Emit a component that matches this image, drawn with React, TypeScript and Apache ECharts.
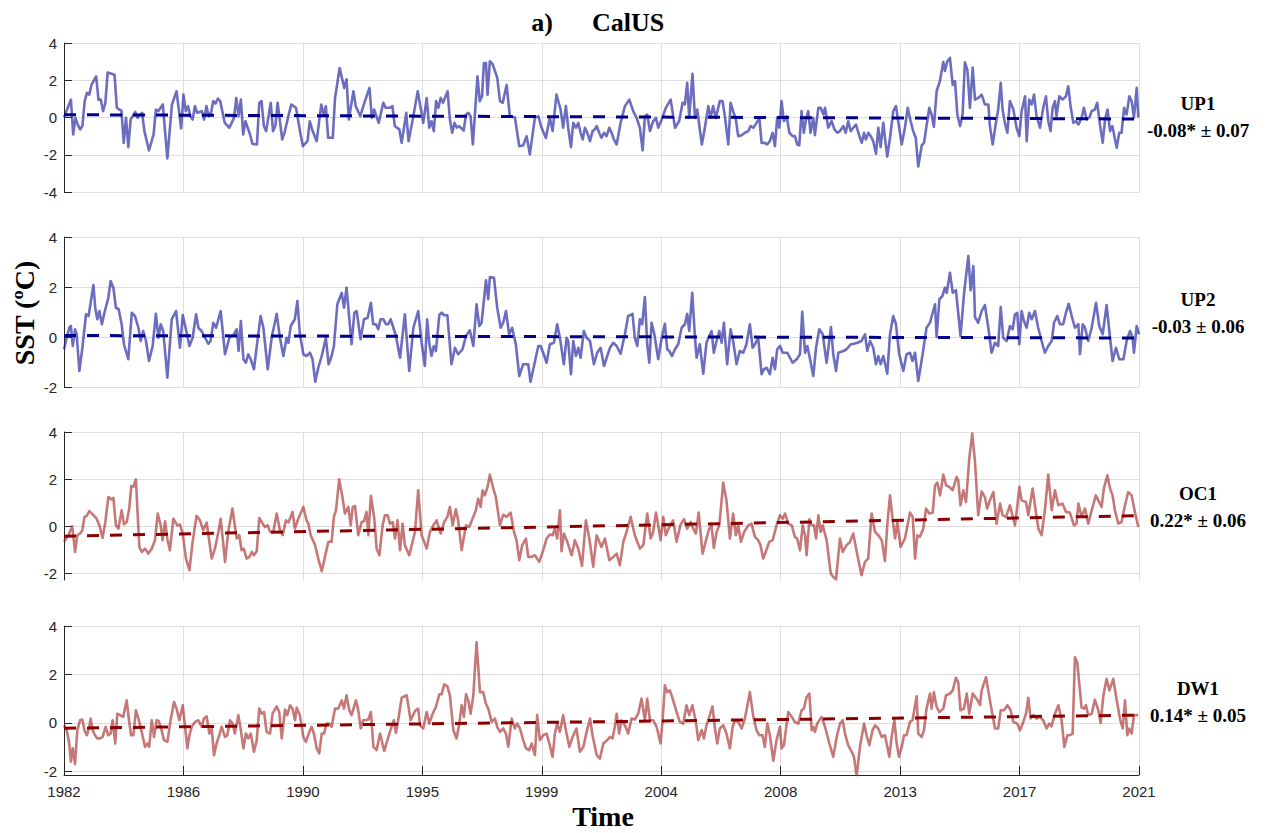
import React, { useEffect, useRef } from 'react';
import * as echarts from 'echarts';

// ---- tick labels / names ----
const tickLabels = ['1982', '1986', '1990', '1995', '1999', '2004', '2008', '2013', '2017', '2021'];
const panelNames = ['UP1', 'UP2', 'OC1', 'DW1'];
const trendTexts = ['-0.08* ± 0.07', '-0.03 ± 0.06', '0.22* ± 0.06', '0.14* ± 0.05'];

// trend line values at start (Jan 1982) and end (2021)
const trendUP1 = [0.15, -0.08];
const trendUP2 = [0.06, -0.04];
const trendOC1 = [-0.42, 0.45];
const trendDW1 = [-0.22, 0.32];

// series: [month index since Jan 1982, SST anomaly ºC]
const up1: number[][] = [
  [0,0.0],[3,0.96],[4,-0.91],[5,-0.02],[6,-0.38],[7,-0.64],[8,-0.46],[9,0.88],[10,1.32],[11,1.23],[12,1.77],[14,2.21],[15,0.96],[16,0.96],[17,0.34],[18,0.79],[19,2.41],[22,2.3],[23,0.52],[24,0.43],[25,0.38],[26,-1.36],[27,-0.02],[28,-1.59],[29,-0.11],[31,0.3],[32,-0.02],[34,0.25],[35,-0.73],[37,-1.77],[39,-0.91],[40,0.43],[41,0.34],[43,0.7],[45,-2.2],[47,0.7],[49,1.41],[51,-0.59],[52,1.23],[53,0.34],[54,0.61],[55,0.07],[56,-0.11],[57,0.61],[58,0.25],[60,0.34],[61,-0.11],[62,0.61],[63,0.07],[64,0.25],[65,0.88],[66,0.75],[67,1.02],[68,0.88],[70,-0.29],[72,-0.55],[74,-0.02],[75,1.05],[76,0.07],[77,0.96],[78,-0.91],[79,-0.2],[81,-0.91],[82,-1.41],[84,-1.45],[85,0.79],[86,0.88],[87,-0.46],[88,-0.73],[90,0.79],[91,-0.73],[92,-0.46],[93,0.79],[95,-1.18],[96,-0.82],[98,0.25],[99,0.7],[101,0.52],[103,-0.91],[104,-1.54],[106,-1.27],[107,-0.2],[108,-0.64],[110,-1.27],[112,0.7],[113,0.16],[114,0.61],[115,-1.09],[117,-1.09],[118,1.05],[120,2.66],[122,1.59],[123,2.05],[124,-0.11],[126,1.41],[127,0.61],[129,0.07],[131,0.88],[133,1.59],[134,-0.02],[135,0.43],[137,-0.29],[139,0.79],[140,0.52],[142,0.52],[143,0.61],[144,-0.46],[146,-0.64],[147,-1.36],[149,0.25],[150,-1.27],[152,0.02],[154,1.41],
  [156.4,-0.29],[157.9,1.05],[159,-0.55],[160,-0.2],[161,-0.73],[162,0.88],[163,0.52],[164,1.05],[165,0.79],[167,1.41],[168,-0.11],[169,-0.82],[170,-0.29],[171,-0.55],[172,-0.46],[174,-0.7],[175,0.16],[176,0.25],[177,0.07],[178,-1.45],[180,2.21],[181,0.88],[182,1.14],[182.8,2.93],[183.7,2.93],[184.4,1.23],[185.4,3.02],[186.6,2.86],[188.6,2.14],[189.8,0.88],[191,0.79],[192.7,1.75],[194.1,0.07],[196.3,0],[198.2,-1.54],[199.9,-1.5],[201.4,-1.0],[202.8,-1.98],[205,-0.02],[206.5,0.07],[207.9,-0.55],[209.8,-1.1],[211.5,0],[212.7,-0.73],[214.4,1.23],[216.2,0.43],[217.3,-0.55],[218.5,0.61],[219.5,-0.55],[220.7,-1.59],[221.7,-0.29],[222.9,-0.55],[223.9,-0.29],[224.9,-0.82],[225.8,-1.18],[226.8,-0.55],[227.8,-0.82],[229,-1.27],[230.1,-0.73],[231.1,-0.64],[231.9,-0.46],[233,-0.82],[234,-1.09],[235.1,-0.82],[236.2,-1.0],[237.4,-0.55],[238.4,-0.82],[239.4,-1.18],[240.6,-1.45],[242.3,-0.29],[244.2,0.61],[246.1,0.96],[247.8,0.34],[249.3,-0.02],[250.7,-0.55],[251.9,-1.77],[252.9,0.07],[253.9,0.16],[255.1,-0.73],[256.5,-0.2],[257.7,-0.02],[258.7,-0.55],[260.2,-0.11],[262,0.52],[264.1,0.96],[266,-0.55],[267.8,-0.2],[269.3,0.79],[270.3,0.7],[271.3,1.86],[272.2,-0.02],[273.6,2.34],[274.7,-0.02],[275.7,0.43],[276.8,-0.64],[277.7,-1.45],[279,-0.55],[280.5,0.61],[281.5,0],[282.6,0.61],[283.8,-0.02],[285.5,0.88],[286.7,0.88],[287.7,0.07],[289.2,-1.45],[290.2,0.79],[291.3,0.34],[292.5,-0.11],[293.5,-1.0],[295,-0.95],[296.4,-0.82],[297.9,-0.73],[298.9,-0.46],[300.1,-0.55],[301.5,-0.29],[302.7,-0.02],[303.7,-1.36],[305.1,-1.36],[306.1,-1.45],[307.3,-1.27],[308.5,-0.82],[309.5,-1.54],[310.5,0],[311.4,-0.55],
  [312.4,0.88],[313.4,-0.2],[314.6,0.07],[315.8,-0.82],[317.2,-1.0],[318.2,-1.0],[319.2,-1.45],[320.1,-1.5],[321.1,0.34],[322.1,-0.82],[323,-0.11],[324,0.34],[325,-0.82],[326.2,-0.02],[326.9,-0.95],[328.4,0.52],[329.4,0.52],[330.6,0.16],[331.3,0.52],[332.7,-0.55],[334.2,-0.2],[335.4,-0.64],[336.7,-0.82],[337.8,-0.73],[339.3,-0.46],[340.3,-0.82],[341.4,-0.2],[342.5,-0.73],[343.6,-0.55],[344.8,-0.38],[345.8,-0.82],[347.3,-1.36],[348.3,-0.82],[349.1,-1.18],[350.2,-0.82],[351.2,-1.0],[352.3,-1.27],[353.5,-1.95],[354.5,-0.55],[355.5,-1.59],[356.7,-0.29],[357.4,-1.09],[358.4,-2.1],[359.6,-1.1],[361,0.34],[362.2,0.61],[363.6,-0.55],[364.7,-1.45],[366.1,-0.55],[367.3,0.52],[368.6,-0.2],[369.7,-0.73],[370.8,-1.09],[371.9,-2.63],[373.4,-1.5],[374.4,-1.36],[375.5,-0.46],[376.7,0.52],[377.7,0.16],[378.7,-0.5],[379.9,1.41],[381.3,1.95],[382.8,2.98],[383.5,2.5],[384.5,3.0],[385.7,3.2],[386.9,1.75],[387.9,1.95],[388.9,0.16],[390.1,-0.46],[391.2,0.16],[392.2,2.96],[393.3,2.55],[394.4,0.52],[395.6,2.68],[396.6,0.96],[398,1.05],[399.5,1.23],[400.9,0.7],[402.4,0.7],[403.1,-0.46],[404.3,-1.45],[405.7,-0.29],[406.7,0.43],[407.8,1.86],[408.6,0.43],[409.6,-0.29],[410.7,-0.82],[411.8,0.88],[413.3,0.43],[414.7,-0.55],[415.9,-1.0],[416.9,0.34],[418.4,1.14],[419.1,-1.27],[420.2,0.96],[421.3,0.7],[422.3,1.23],[423.4,0.07],[424.9,-0.55],[426.3,0.52],[427.5,1.14],[428.5,-0.2],[429.5,-0.73],[430.4,0.52],[431.4,0.88],[432.1,0.07],[433.3,1.14],[434.7,0.96],[436.2,1.14],[437.2,1.68],[438.2,0.61],[439.4,-0.29],[440.5,-0.2],[441.6,-0.38],[443,-0.02],[444,0.52],[445.2,-0.11],[446.4,0],[447.4,0.34],[448.8,0.43],[449.8,0.79],[451,-0.38],[452.2,-1.36],[453.2,-0.11],[454.3,0.43],[455.4,-0.73],[456.4,-0.46],[457.2,-0.95],[458.3,-1.63],[459.4,-0.82],[460.4,-0.82],[461.5,0.52],[462.6,0.16],[463.8,1.14],[464.8,0.88],[465.8,0],[467,1.59],[467.7,0]
];

const up2: number[][] = [
  [0,-0.49],[1.2,-0.03],[2.3,0.37],[3,0.44],[3.8,-0.36],[4.8,0.31],[5.5,0.11],[6.7,-1.36],[8,-0.43],[9.6,0.91],[10.7,0.84],[12.8,2.08],[13.6,1.17],[14.5,0.71],[15.4,1.04],[16.5,0.51],[17.6,0.97],[19.3,1.57],[20.3,2.24],[21.5,1.97],[22.6,1.17],[23.8,1.11],[25.1,0.51],[26.1,-0.29],[28,-0.89],[29.5,0.97],[30.9,0.84],[32.4,0.37],[33.4,-0.16],[34.5,0.24],[35.7,-0.16],[37,-0.96],[38.6,-0.36],[40,0.93],[41.1,-0.03],[42.1,0.51],[43.2,0.24],[45,-1.63],[46.9,0.71],[48.8,1.04],[50.5,-0.43],[51.7,0.88],[53.4,0.17],[54.6,-0.36],[56,-0.03],[57.5,0.91],[58.5,0.37],[59.9,0.24],[61.4,-0.03],[62.8,-0.27],[63.8,-0.16],[65,0.57],[66.2,0.37],[68.2,1.04],[70.1,-0.69],[72,-0.03],[74,0.11],[75.2,0.31],[76,-0.56],[77,0.64],[78.1,-0.89],[79.2,-1.03],[80.2,-0.69],[81.3,-0.89],[82.7,-1.29],[84.2,-0.16],[85.6,0.84],[86.8,0.37],[88.7,-1.29],[90.4,-0.03],[92.6,0.93],[94,-0.03],[95.5,-0.76],[96.9,-0.03],[97.7,-0.23],[98.7,0.44],[99.8,0.61],[100.5,0.71],[101.6,1.44],[102.7,0.11],[104.2,-0.69],[105.6,-0.76],[107.1,-0.63],[108.2,-0.89],[109.4,-1.79],[110.7,-1.23],[112.2,-0.76],[114,-0.03],[115.2,-1.09],[116.5,-0.76],[117.5,-0.36],[119,1.31],[120.9,1.77],[121.9,1.17],[123,1.97],[125.2,-0.29],[126.4,0.97],[127.4,1.04],[129.1,-0.09],[130.6,0.71],[132.2,0.77],[133.6,1.37],[134.6,0.51],[135.8,0.51],[136.8,0.31],[137.8,0.71],[139,0.71],[140.2,0.51],[141.2,0.51],[142.2,0.71],[143.4,0.37],[144.5,0.04],[146.3,-0.83],[148.4,0.91],[150.3,-1.36],[152.1,0.37],[154.2,1.04],
  [155.7,-0.23],[157.1,-1.16],[158.1,0.71],[159,-0.23],[160,-0.76],[161,-0.36],[161.9,-0.56],[163.4,0.88],[164.4,0.97],[165.5,0.87],[166.9,0.87],[168.7,-1.09],[170.2,-0.43],[171.6,-0.69],[173.5,-0.49],[175,0.04],[176.7,0.27],[178.2,-0.36],[179.6,1.31],[180.8,0.44],[181.8,0.57],[183.7,2.27],[184.7,1.51],[185.4,2.4],[187.2,2.37],[188.6,1.17],[190.1,0.37],[191.2,0.57],[192.4,1.04],[193.8,0.11],[195.1,0.37],[196.7,-0.29],[198.2,-1.56],[199.9,-1.09],[202.1,-1.09],[203.1,-1.79],[204.6,-1.16],[206.5,-0.36],[207.5,-0.36],[208.6,-0.63],[210.1,-1.03],[211.5,-0.29],[213.3,-0.23],[214.7,0.51],[215.9,-0.03],[217.6,-1.09],[218.8,-0.03],[219.5,-0.16],[220.7,-1.49],[221.7,-0.16],[222.9,-0.76],[223.9,-0.43],[224.9,-0.83],[226.3,0.24],[227.5,-0.03],[229,-0.16],[230.7,-1.09],[232.1,-0.63],[233.6,-0.43],[235.1,-1.16],[236.5,-0.76],[237.7,-0.43],[239.1,-0.23],[240.6,-0.36],[242.3,-0.67],[244.2,0.11],[245.6,0.84],[246.7,0.88],[247.5,0.93],[248.5,-0.03],[249.6,-0.36],[250.7,0.71],[251.7,0.51],[252.9,1.6],[253.9,-0.29],[254.8,-1.03],[255.8,0.57],[257,0.11],[258.7,-0.89],[260.2,-0.03],[261.6,0.53],[262.6,-0.49],[263.5,-0.56],[264.7,-0.76],[266,-0.49],[267.4,-0.29],[268.9,0.37],[270.3,0.51],[271.3,0.93],[272.2,0.24],[273.5,1.77],[274.7,-0.03],[275.4,-0.83],[276.8,-0.29],[278.3,-1.47],[279.7,-0.23],[280.9,0.04],[281.9,0.24],[282.9,-0.63],[284.1,-0.16],[285.3,0.24],[286.3,-0.23],[287.3,0.57],[288.7,-1.09],[290.2,0.31],[291.3,-0.16],[292.8,-1.09],[294.2,-0.56],[295.7,-0.63],[297.1,-0.29],[298.6,0.51],[299.8,-0.43],[300.8,-0.29],[302.2,-0.03],[303.7,-1.49],[304.7,-1.29],[305.9,-1.23],[307.3,-1.49],[308.5,-0.83],[309.5,-1.29],[310.5,-0.49],
  [311.7,-0.36],[312.9,-0.63],[314.9,-0.63],[317.2,-1.03],[319,-0.89],[320.4,-0.69],[321.4,1.01],[322.6,-0.63],[323.6,-0.36],[324.8,-0.89],[326.2,-1.56],[327.4,-0.43],[328.8,0.31],[330.3,0.11],[332,-1.03],[333.9,0.4],[334.9,-0.69],[336.1,-1.36],[337.1,-0.63],[339.3,-0.56],[340.7,-0.49],[342.5,-0.29],[343.9,-0.27],[345.4,-0.23],[347.2,-0.16],[348.7,0.11],[349.7,-0.56],[350.9,-0.16],[352.3,-0.43],[353.5,-1.09],[354.5,-0.76],[355.5,-1.09],[356.7,-0.76],[358.4,-1.47],[359.6,0.11],[361,0.84],[362.2,0.51],[363.6,-0.69],[365.4,-1.36],[366.8,-0.69],[368.3,-0.63],[369.4,-0.96],[370.5,-0.63],[371.9,-1.76],[373.8,-0.69],[375.5,0.37],[377,0.57],[379.2,1.31],[379.9,0],[381.1,1.51],[382.4,1.64],[383.5,1.97],[384.3,1.77],[385.7,2.57],[386.9,1.77],[388.3,1.87],[390.3,0.04],[391.8,1.71],[393.7,3.24],[394.7,1.87],[395.9,2.84],[396.6,0.8],[398,0.57],[399.5,1.04],[400.9,1.28],[402.4,0.37],[403.8,-0.63],[405.3,-0.23],[406.7,-0.36],[407.8,1.2],[408.9,-0.03],[410.4,-0.16],[411.8,0.44],[413,0.31],[414,0.91],[415,0.97],[415.9,-0.29],[416.9,1.04],[417.9,0.64],[419.1,0.37],[420.2,0.97],[421.3,0.71],[422.7,1.04],[424.1,0.37],[425.6,-0.16],[427,-0.63],[428.5,-0.36],[430,-0.16],[431,0.57],[432.4,0.84],[433.6,0.51],[435,0.51],[436.2,0.97],[437.4,1.33],[438.7,0.84],[440.1,0.37],[441.6,0.51],[442.3,-0.69],[443.5,0.51],[444.5,0.37],[445.9,-0.16],[447.4,0.37],[449.3,1.37],[450.7,0.44],[452.2,0.11],[453.9,1.28],[455.4,-0.03],[456.5,-0.96],[458,-0.43],[459.4,-0.89],[461.2,-0.89],[462.6,-0.16],[464.1,0.24],[465.2,-0.03],[465.8,-0.63],[467,0.44],[468,0.11]
];

const oc1: number[][] = [
  [0,-0.66],[1.9,-0.38],[3.6,0],[4.8,-1.09],[5.8,-0.38],[7,-0.31],[8,-0.17],[8.9,0.4],[9.9,0.44],[11,0.64],[12.8,0.47],[14.2,0.32],[15.4,0.04],[16.8,-0.49],[18,0.18],[19.3,1.24],[20.7,1.14],[21.5,1.2],[22.6,0.04],[23.7,-0.1],[25.1,0.68],[26.1,0.08],[27.3,0.18],[28.4,0.75],[29.3,1.71],[30.2,1.67],[31.3,1.99],[32.8,-0.88],[33.8,-1.09],[35.3,-0.95],[36.7,-1.16],[38.2,-0.95],[39.6,-0.59],[40.8,0.54],[42.1,0.04],[42.9,-0.59],[44,0.21],[45.1,-0.59],[46.1,-1.02],[47.6,0.32],[49.3,0.04],[50.5,0.07],[51.7,-0.31],[53.1,-1.37],[54.6,-1.86],[56,-0.66],[57.7,0.44],[59.2,0.25],[60.6,-0.17],[62.1,0.16],[64.3,-1.37],[65.7,-0.95],[67.2,-0.24],[68.2,0.32],[69.1,-0.52],[70.1,-1.51],[71.5,-0.24],[73.3,0.75],[75.2,-0.52],[76.3,-0.38],[77.3,-1.02],[78.3,-0.95],[79.5,-1.37],[80.7,-1.3],[81.8,-1.09],[82.7,-1.23],[83.9,-1.06],[85,0.35],[86.5,0.11],[87.5,-0.03],[88.7,0.04],[89.7,-0.24],[91.1,-0.24],[92.6,0.54],[94,-0.17],[95.2,-0.38],[96.6,0.25],[97.7,0.16],[98.7,0.4],[99.5,0.61],[100.5,-0.1],[102,0.32],[104.2,0.82],[105.6,0.25],[106.4,0.11],[107.4,-0.38],[109.3,-0.8],[110.7,-1.37],[112.2,-1.91],[113.6,-1.3],[115.1,-0.66],[116.5,-0.66],[117.5,0.4],[118.4,0.68],[119.8,1.99],[121.2,1.24],[122.3,0.54],[123.8,0.82],[124.8,0.04],[125.7,0.82],[126.7,0.86],[128.1,-0.38],[129.6,0.18],[130.6,0.21],[131.7,0.61],[132.5,-0.38],[133.6,1.29],[135.1,0.32],[136.1,-0.95],[137.3,-1.23],[138.7,0.04],[139.7,0.47],[140.9,0.47],[141.9,0.11],[143.1,0.18],[144.1,-0.52],[145.2,0.25],[146.3,-1.02],[147.4,0.11],[148.4,-0.8],[150.3,-1.23],[152.8,-0.24],[154.2,1.53],
  [155.7,-0.38],[157.9,-0.95],[159.3,-0.24],[160.8,0.04],[162.2,0.25],[164,-0.31],[165.5,0.18],[166.9,0.4],[168,0.82],[169.2,0.04],[170.6,0.72],[171.6,0.25],[173.1,-1.02],[175,0.04],[176.4,-0.03],[178.2,0.4],[179.3,0.68],[180.3,1.17],[181.4,0.82],[182.2,1.53],[183.2,1.31],[184.4,1.67],[185.4,2.19],[186.9,1.6],[188,1.24],[189.8,0.04],[191.2,0.49],[192.7,0.4],[194.4,0.58],[195.9,-0.24],[197,-0.59],[198.2,-1.44],[199.5,-0.8],[201.1,-0.52],[202.1,-1.3],[203.6,-1.3],[205,-1.23],[206.9,-1.51],[208.6,-1.02],[210.1,-0.52],[211.5,-0.35],[212.7,-0.38],[213.7,-0.1],[214.7,-0.52],[215.9,0.68],[216.6,-1.06],[217.6,-0.31],[219.1,-0.66],[221,-1.23],[222.4,-0.59],[223.9,-0.95],[225.5,-1.68],[227.2,0.25],[228.7,-0.52],[230.4,-1.72],[231.9,-0.38],[234,-0.88],[235.5,-0.52],[237.4,-1.44],[239.1,-1.3],[240.6,-1.16],[242,-1.65],[243.5,-0.66],[244.9,-0.24],[246.7,0.4],[248.5,-0.38],[250.7,-0.95],[252.2,-0.8],[253.9,0.54],[255.4,-0.52],[256.5,-0.24],[257.7,0.58],[258.7,0.04],[259.7,-0.59],[260.9,0.4],[262,-0.38],[263.5,-0.03],[265.2,0.25],[266.7,-0.66],[268.4,0.07],[269.9,0.3],[271.3,-0.1],[272.8,0.18],[273.9,-0.1],[275.1,-0.31],[276.3,0.58],[278,-1.16],[279.7,-0.52],[280.9,-0.1],[281.9,0.04],[282.9,-0.92],[284.1,-0.24],[285.3,0.04],[287,1.85],[288.4,1.1],[289.9,-0.52],[291.3,0.54],[292.5,-0.38],[293.5,0.04],[294.7,-0.66],[296.1,-0.24],[297.9,0.04],[299.3,0.11],[300.8,-0.45],[302.2,-0.59],[303.2,-0.8],[304.4,-1.37],[305.6,-1.06],[307,-0.66],[308.5,-0.59],[310.2,0.04],
  [311.7,0.47],[312.9,0.32],[313.9,0.54],[315.3,0.11],[316.8,0.04],[318.2,-0.45],[319.2,-0.52],[320.4,-1.02],[321.6,0.04],[322.6,-0.38],[323.3,-1.23],[324.5,0.3],[325.5,0.04],[326.5,0.04],[327.4,-0.52],[328.4,0.47],[329.4,-0.24],[330.3,0.04],[332,-0.59],[333.8,-2.0],[334.9,-2.15],[336.1,-2.25],[337.8,-0.52],[339,-1.09],[340.7,-0.8],[342.2,-0.66],[343.6,-0.31],[345.4,-1.23],[347.2,-2.08],[348.7,-1.51],[350.1,-1.37],[351.6,0.54],[353.1,-0.24],[354.5,-0.38],[356,-0.59],[357.4,-1.48],[358.4,0.04],[359.6,1.31],[360.7,0.32],[361.8,-0.52],[362.8,0.18],[364.2,-0.88],[366.1,-0.52],[368.3,0.58],[369.5,0.4],[370.5,-1.37],[371.5,-0.38],[372.6,-0.45],[374.1,-0.1],[375.3,0.75],[376.7,0.54],[378.2,0.58],[379.2,1.74],[380.2,1.85],[381.4,1.31],[382.8,2.19],[384,1.74],[385.4,1.67],[386.9,1.53],[388.6,2.09],[389.3,1.95],[390.3,0.89],[391.5,1.53],[392.7,1.03],[394.1,2.87],[395.4,3.93],[396.6,2.73],[398,0.47],[399.5,1.48],[400.9,1.24],[401.9,0.75],[403.1,1.1],[404.6,1.45],[406,0.11],[407.5,0.96],[408.6,0.47],[410.1,0.4],[411.8,0.89],[414,0.04],[415,0.82],[415.9,1.67],[416.9,1.1],[418.8,1.03],[419.8,0.47],[421.7,1.6],[423.1,0.61],[424.2,-0.1],[425.6,-0.38],[427.1,0.75],[428.5,2.19],[430,0.68],[431.4,1.53],[432.9,0.89],[434.7,0.96],[436.2,0.61],[437.9,0.58],[439.7,0.04],[440.8,0.11],[441.6,0.96],[443,0.4],[444.5,0.75],[445.9,0.11],[447.4,0.68],[449.2,1.31],[451.7,0.82],[452.7,1.6],[454.2,2.16],[455.4,1.6],[456.5,1.31],[457.5,0.68],[459,0.11],[460.4,0.18],[461.9,0.89],[463.3,1.45],[464.8,1.31],[466.2,0.61],[467.7,-0.03]
];

const dw1: number[][] = [
  [0,-0.1],[1.2,-0.3],[2.3,-0.85],[3,-1.6],[3.8,-1.05],[4.8,-1.7],[5.8,-0.3],[7,0.11],[8,0.14],[8.9,-0.3],[9.9,-0.51],[11,-0.16],[11.6,0.18],[12.5,-0.3],[13.5,-0.51],[14.5,-0.64],[15.7,-0.64],[16.8,-0.58],[18.1,-0.16],[19.3,-0.51],[20.3,-0.44],[21.2,0.11],[22.3,-0.85],[23.2,0.38],[24.4,0.32],[25.8,0.25],[27.3,0.93],[28.1,0.25],[29.2,-0.51],[30.2,-0.51],[31.3,0.52],[32.6,0.11],[33.8,-0.37],[35.3,-0.99],[36.3,-0.85],[37.1,-0.99],[38.2,0.11],[39.2,-0.58],[40.3,0.11],[41.2,0.08],[42.5,-0.3],[43.5,-0.71],[45,-0.78],[46.4,0.11],[47.9,0.86],[49,0.59],[50.2,0.11],[51.7,0.73],[52.7,-0.16],[53.7,-1.05],[54.6,-0.51],[55.6,-0.16],[57,0.04],[58.5,0.11],[59.9,-0.16],[60.9,0.18],[62.1,0.27],[63.3,-0.44],[64.3,-0.23],[65.3,-1.33],[66.4,-0.85],[67.6,-0.51],[68.6,-0.16],[70.1,-0.58],[71.1,-0.51],[72.3,0.11],[73.4,-0.03],[74.4,-0.44],[75.9,0.32],[77,-0.3],[78.1,-1.05],[79.2,-0.44],[80.2,-0.64],[81.3,-0.44],[82.7,-1.19],[83.9,-0.71],[85,0.59],[86,0.38],[87.1,0.45],[88.2,-0.37],[89.7,-0.44],[90.8,0.38],[92.6,0.68],[93.7,0.45],[94.8,-0.64],[96.2,0.55],[97.2,0.32],[98.4,0.73],[99.5,0.59],[100.6,0.11],[101.3,0.63],[102.7,0.32],[104.2,-0.58],[105.3,-0.78],[106.8,-0.37],[107.8,-0.16],[108.8,-0.44],[110,-1.05],[111.1,-1.26],[112.2,-0.44],[113.2,-0.44],[114.3,-0.03],[115.5,-0.03],[116.5,-0.16],[118,0.59],[119.4,0.59],[120.9,0.93],[121.9,0.59],[123,1.14],[124.2,0.52],[125.2,0.32],[127.1,0.93],[128.1,0.52],[129.2,-0.23],[130.3,0.11],[131.5,0.11],[132.5,0.14],[133.6,0.45],[134.7,-0.99],[136.1,-1.12],[137.6,-0.44],[139.4,-1.16],[141.2,-0.58],[142.6,-0.16],[143.6,0.11],[144.5,-0.41],[145.5,0.11],[147,1.04],[149.2,1.14],[150.9,0.11],[152.8,0.49],[154.2,0.59],
  [155,-0.1],[156.4,-0.23],[157.9,0.45],[159,-0.03],[160.5,0.38],[161.9,0.66],[163.4,1.18],[164.4,1.18],[165.5,1.59],[166.9,1.51],[168,1.14],[169.5,-0.3],[170.9,-0.64],[172.1,-0.03],[173.1,0.73],[174.1,0.25],[175,1.18],[176,0.93],[177,0.38],[178.2,1.14],[179.6,3.33],[181.1,1.27],[182.5,1.27],[183.7,0.79],[184.7,0.59],[186.2,0.04],[187.6,0.18],[188.6,-0.16],[189.8,-0.37],[191.2,-0.23],[192.4,-0.44],[193.4,-0.99],[194.9,0.18],[196.3,-0.23],[197.3,-0.03],[198.5,-0.23],[199.9,-0.71],[201.1,-1.05],[202.5,-1.12],[203.6,-0.85],[205,-1.33],[206,0.32],[207.2,-0.71],[208.6,-0.51],[210.1,-0.44],[211.3,-0.85],[212.7,-1.4],[213.7,-0.44],[214.7,-0.03],[215.9,-0.37],[217.3,0.32],[218.5,-0.3],[220,-0.99],[221.4,-0.58],[223.1,-0.23],[224.6,-1.19],[226.1,-0.99],[227.5,-0.37],[229,0.18],[230.1,-0.51],[231.9,-1.33],[233.3,-1.47],[234.8,-0.85],[236.2,-0.74],[237.7,-0.58],[238.8,-0.64],[239.8,-0.16],[240.6,0.38],[241.7,-0.44],[242.7,0.11],[244.2,-0.1],[245.6,-0.44],[247.1,0.18],[248.5,0.14],[250,0.38],[251.4,1.0],[252.9,0.11],[253.9,1.0],[255.1,0.11],[256.5,0.11],[258,-0.16],[259.7,-0.85],[260.6,0.11],[261.6,1.55],[262.6,1.27],[263.8,1.34],[265.2,0.93],[266.7,0.45],[268.1,0.04],[269.6,-0.03],[271,0.73],[272.2,0.32],[273.6,0.73],[275.1,0.04],[276.1,-0.71],[277.6,-0.3],[278.6,-0.64],[279.7,-0.1],[280.9,0.25],[282.3,0.68],[283.4,-0.23],[284.4,-0.85],[285.5,-0.23],[287,-0.1],[288.4,-0.44],[289.9,-1.05],[291.1,-0.16],[292.1,0.11],[293.5,0.04],[295,-0.23],[296.4,0.18],[297.4,0.66],[298.6,1.27],[300.1,0.25],[301.5,-0.3],[302.7,-0.51],[304.1,-0.51],[305.1,-0.99],[306.2,-0.03],[307.3,-0.51],[308.8,-1.56],[310.2,-0.71],
  [311.7,-0.16],[312.4,-1.05],[313.4,-0.92],[315.3,0.45],[316.8,0.25],[318.2,0.04],[319.7,-0.03],[321.1,0.52],[322.1,0.59],[323.3,1.07],[324.5,1.21],[325.5,-0.3],[326.2,-0.16],[326.9,-0.37],[327.9,-0.03],[329.8,0.25],[331.3,-0.16],[333.2,-0.85],[334.9,-1.4],[336.4,-0.58],[337.8,-0.03],[339,0.11],[340,-0.44],[341.4,-0.92],[342.9,-1.19],[343.9,-1.4],[345.1,-2.2],[346.5,-0.99],[348.3,-0.03],[349.4,-0.51],[350.6,-0.92],[352,-0.3],[353.1,-0.1],[354.5,-0.23],[356,-0.58],[357.4,-0.51],[359.3,-1.4],[360.3,-0.58],[361.5,0.11],[362.5,-0.85],[363.5,-1.4],[364.7,-0.99],[365.7,-0.51],[366.8,-0.51],[368.3,0.04],[369.4,0.11],[371.2,1.1],[371.9,-0.44],[373.4,-0.58],[374.4,-0.3],[375.5,0.59],[377,1.21],[377.7,0.59],[378.7,1.27],[379.9,0.66],[381.1,0.45],[382.8,0.59],[384,1.14],[385.7,1.21],[386.9,1.34],[388.3,1.86],[389.3,1.68],[390.3,0.52],[391.8,0.59],[393,1.21],[394.1,0.38],[395.6,1.21],[397.3,1.0],[398.8,0.73],[399.5,1.34],[401.4,1.89],[403.1,0.93],[405.3,-0.23],[406.7,-0.23],[407.8,0.52],[409.2,0.52],[410.7,0.73],[412.1,0.52],[413.3,0.04],[415,-0.03],[416.2,-0.3],[417.6,0.04],[418.8,0.38],[419.8,1.04],[420.8,0.18],[422,0.32],[423.4,0.18],[424.9,0.25],[426.3,0.11],[427.8,-0.23],[428.9,-0.03],[429.9,-0.14],[431.4,0.38],[432.9,0.73],[434.3,0.11],[435.5,-0.99],[436.8,-0.51],[437.9,-0.51],[439.1,-0.44],[440.1,2.71],[441.1,2.51],[443,0.63],[444,0.59],[444.9,0.73],[445.9,0.32],[447.4,0.38],[448.8,0.96],[450.3,0.52],[451.3,0],[452.5,1.14],[453.9,1.82],[455.1,1.34],[456.8,1.82],[458.3,0.93],[459.7,0.18],[460.9,-0.23],[461.9,0.93],[462.9,-0.51],[463.8,-0.23],[464.8,-0.44],[465.8,0.32],[467.7,0.32]
];

const N_MONTHS = 468;
const TICK_STEP = 52;

export default function App() {
  const ref = useRef<HTMLDivElement>(null);

  useEffect(() => {
    if (!ref.current) return;
    const chart = echarts.init(ref.current, undefined, { renderer: 'svg' });

    const axisColor = '#262626';
    const gridColor = '#dedede';
    const blueLine = 'rgba(40,40,160,0.68)';
    const redLine = 'rgba(160,30,30,0.6)';
    const blueTrend = '#00008b';
    const redTrend = '#8b0000';

    const panels = [
      { top: 43, height: 149, min: -4, max: 4, data: up1, trend: trendUP1, line: blueLine, tcol: blueTrend },
      { top: 237, height: 150, min: -2, max: 4, data: up2, trend: trendUP2, line: blueLine, tcol: blueTrend },
      { top: 432, height: 148, min: -2.28, max: 4, data: oc1, trend: trendOC1, line: redLine, tcol: redTrend },
      { top: 626, height: 149, min: -2.15, max: 4, data: dw1, trend: trendDW1, line: redLine, tcol: redTrend },
    ];

    const tickVals = (min: number) => {
      const v: number[] = [];
      for (let t = Math.ceil(min / 2) * 2; t <= 4; t += 2) v.push(t);
      return v;
    };

    const grid = panels.map((p) => ({
      left: 64, width: 1075, top: p.top, height: p.height,
      outerBoundsMode: 'none', containLabel: false,
    }));

    const xAxis = panels.map((p, i) => ({
      type: 'value', gridIndex: i, min: 0, max: N_MONTHS, interval: TICK_STEP,
      axisLine: { show: i === 3, onZero: false, lineStyle: { color: axisColor, width: 1 } },
      axisTick: { show: i === 3, inside: true, length: 9, lineStyle: { color: axisColor } },
      axisLabel: {
        show: i === 3, color: axisColor, fontSize: 15, fontFamily: 'Liberation Sans', margin: 9,
        formatter: (v: number) => tickLabels[Math.round(v / TICK_STEP)] ?? '',
      },
      splitLine: { show: true, lineStyle: { color: gridColor, width: 1 } },
    }));

    const yAxis = panels.map((p, i) => {
      const tv = tickVals(p.min);
      return {
        type: 'value', gridIndex: i, min: p.min, max: p.max,
        axisLine: { show: true, onZero: false, lineStyle: { color: axisColor, width: 1 } },
        axisTick: { show: true, inside: true, length: 8, customValues: tv, lineStyle: { color: axisColor } },
        axisLabel: { show: true, customValues: tv, color: axisColor, fontSize: 15, fontFamily: 'Liberation Sans', margin: 7 },
        splitLine: { show: true, lineStyle: { color: gridColor, width: 1 } },
      };
    });

    const series: any[] = [];
    panels.forEach((p, i) => {
      series.push({
        type: 'line', xAxisIndex: i, yAxisIndex: i, data: p.data, symbol: 'none',
        lineStyle: { color: p.line, width: 2.6, join: 'round' }, clip: true, z: 2,
      });
      series.push({
        type: 'line', xAxisIndex: i, yAxisIndex: i,
        data: [[0, p.trend[0]], [N_MONTHS, p.trend[1]]], symbol: 'none',
        lineStyle: { color: p.tcol, width: 3, type: [12, 11] }, z: 3,
      });
    });

    const serif = 'Liberation Serif, Times New Roman, serif';
    const labelY = [[103, 130], [299, 326], [493, 520], [688, 715]];
    const graphic: any[] = [];
    const txt = (x: number, y: number, text: string, size: number, extra: any = {}) => ({
      type: 'text', x, y, ...extra,
      style: { text, fill: '#000', font: `bold ${size}px ${serif}`, textAlign: 'center', textVerticalAlign: 'middle', align: 'center', verticalAlign: 'middle' },
    });
    panels.forEach((_, i) => {
      graphic.push(txt(1198, labelY[i][0], panelNames[i], 19));
      graphic.push(txt(1198, labelY[i][1], trendTexts[i], 19));
    });
    graphic.push(txt(542, 22, 'a)', 26));
    graphic.push(txt(628, 22, 'CalUS', 26));
    graphic.push(txt(24, 313, 'SST (ºC)', 28, { rotation: Math.PI / 2 }));
    graphic.push(txt(603, 816, 'Time', 28));

    chart.setOption({
      animation: false,
      backgroundColor: '#ffffff',
      textStyle: { fontFamily: 'Liberation Sans' },
      grid, xAxis, yAxis, series, graphic,
    });

    return () => chart.dispose();
  }, []);

  return (
    <div
      ref={ref}
      style={{ position: 'absolute', left: 0, top: 0, width: 1273, height: 833, background: '#fff' }}
    />
  );
}
